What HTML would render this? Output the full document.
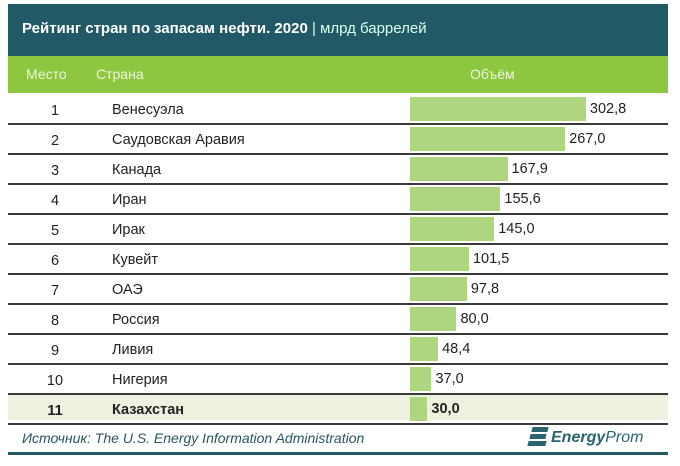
<!DOCTYPE html><html><head><style>
body{margin:0;width:680px;height:466px;background:#fff;font-family:"Liberation Sans",sans-serif;position:relative;overflow:hidden}
div{position:absolute}
.t{font-size:14.5px;color:#222;line-height:30px}
</style></head><body>
<div style="left:8px;top:4px;width:660px;height:52px;background:#215a66"></div>
<div style="left:22px;top:18px;color:#fff;font-size:15px;font-weight:bold;line-height:22px">Рейтинг стран по запасам нефти. 2020 <span style="font-weight:normal;color:#dfe">| млрд баррелей</span></div>
<div style="left:8px;top:56px;width:660px;height:37px;background:#8dc63f"></div>
<div style="left:26px;top:64px;color:#eef7e0;font-size:14px;line-height:20px">Место</div>
<div style="left:96px;top:64px;color:#eef7e0;font-size:14px;line-height:20px">Страна</div>
<div style="left:470px;top:64px;color:#eef7e0;font-size:14px;line-height:20px">Объём</div>
<div style="left:8px;top:393px;width:660px;height:27px;background:#eef0e0"></div>
<div id="rows"></div>
<div style="left:22px;top:428px;font-size:14px;font-style:italic;color:#2a5560;line-height:20px">Источник: The U.S. Energy Information Administration</div>
<div style="left:530px;top:427px;width:20px;height:20px">
<div style="left:2px;top:0;width:16px;height:5px;background:#2a6470;transform:skewX(-15deg)"></div>
<div style="left:0;top:7px;width:16px;height:5px;background:#2a6470;transform:skewX(-15deg)"></div>
<div style="left:-2px;top:14px;width:18px;height:5px;background:#2a6470;transform:skewX(-15deg)"></div></div>
<div style="left:551px;top:428px;font-size:16px;color:#2a6470;line-height:20px;font-style:italic"><b>Energy</b>Prom</div>
<div style="left:8px;top:452px;width:660px;height:3px;background:#215a66"></div>
<script>
var d=[["Венесуэла",302.8],["Саудовская Аравия",267.0],["Канада",167.9],["Иран",155.6],["Ирак",145.0],["Кувейт",101.5],["ОАЭ",97.8],["Россия",80.0],["Ливия",48.4],["Нигерия",37.0],["Казахстан",30.0]];
var h="";d.forEach(function(r,i){var y=94+30*i,w=r[1]*0.581,b=i==10?"font-weight:bold;":"";
h+='<div class="t" style="'+b+'left:30px;top:'+(y+2)+'px;width:50px;text-align:center">'+(i+1)+'</div>';
h+='<div class="t" style="'+b+'left:112px;top:'+(y+1)+'px">'+r[0]+'</div>';
h+='<div style="left:410px;top:'+(y+3)+'px;width:'+w+'px;height:24px;background:#aed67e"></div>';
h+='<div class="t" style="'+b+'left:'+(414+w)+'px;top:'+y+'px">'+r[1].toFixed(1).replace(".",",")+'</div>';
h+='<div style="left:8px;top:'+(y+29)+'px;width:660px;height:2px;background:#3a3a3a"></div>';});
document.getElementById("rows").outerHTML=h;
</script>
</body></html>
